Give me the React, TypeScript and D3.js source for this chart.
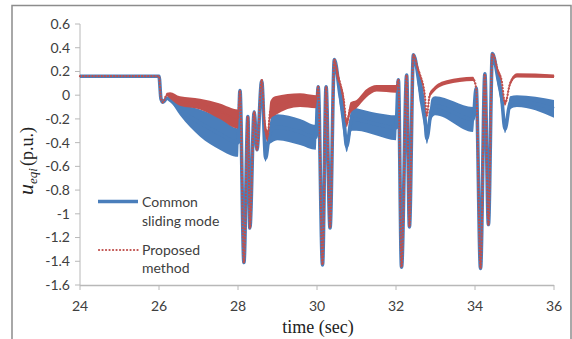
import React from "react";
import * as d3 from "d3";

// [time (s), low, high] envelopes of each signal (high-frequency band)
const commonSlidingMode: [number, number, number][] = [
  [24, 0.16, 0.16], [26.0, 0.16, 0.16], [26.05, -0.03, -0.03], [26.1, -0.06, -0.06],
  [26.2, -0.03, -0.02], [26.3, -0.06, -0.03], [26.53, -0.17, -0.07], [27.04, -0.35, -0.12],
  [27.54, -0.46, -0.19], [28.0, -0.52, -0.28],
  [28.05, 0.04, 0.04], [28.15, -1.41, -1.41], [28.25, -0.18, -0.18], [28.3, -1.12, -1.12],
  [28.41, -0.14, -0.14], [28.48, -0.46, -0.46], [28.6, 0.12, 0.12], [28.7, -0.56, -0.5],
  [28.78, -0.42, -0.3], [28.85, -0.4, -0.18], [29.0, -0.38, -0.16], [29.57, -0.42, -0.2],
  [29.97, -0.46, -0.25],
  [30.03, 0.07, 0.07], [30.14, -1.43, -1.43], [30.23, 0.07, 0.07], [30.33, -1.12, -1.12],
  [30.44, 0.3, 0.3], [30.58, -0.1, 0.11], [30.68, -0.35, -0.05], [30.75, -0.48, -0.38],
  [30.88, -0.3, -0.1], [31.0, -0.3, -0.11], [31.51, -0.34, -0.15], [32.0, -0.38, -0.17],
  [32.06, 0.13, 0.13], [32.14, -1.45, -1.45], [32.27, 0.17, 0.17], [32.34, -1.11, -1.11],
  [32.44, 0.34, 0.34], [32.61, -0.07, 0.17], [32.73, -0.3, -0.05], [32.78, -0.41, -0.32],
  [32.9, -0.2, -0.03], [32.99, -0.17, -0.01], [33.95, -0.31, -0.1],
  [34.03, 0.06, 0.06], [34.14, -1.46, -1.46], [34.25, 0.18, 0.18], [34.34, -1.09, -1.09],
  [34.44, 0.35, 0.35], [34.59, 0.05, 0.2], [34.67, -0.1, 0.1], [34.76, -0.32, -0.25],
  [34.89, -0.12, -0.01], [35.06, -0.1, 0.0], [36.0, -0.19, -0.04],
];

const proposedMethod: [number, number, number][] = [
  [24, 0.16, 0.16], [26.0, 0.16, 0.16], [26.05, -0.03, -0.03], [26.1, -0.06, -0.06],
  [26.2, -0.01, 0.02], [26.28, -0.03, 0.025], [26.53, -0.09, -0.01], [27.04, -0.12, -0.03],
  [27.54, -0.2, -0.07], [28.0, -0.28, -0.12],
  [28.05, 0.04, 0.04], [28.15, -1.41, -1.41], [28.25, -0.18, -0.18], [28.3, -1.12, -1.12],
  [28.41, -0.14, -0.14], [28.48, -0.46, -0.46], [28.6, 0.13, 0.13], [28.67, -0.3, -0.15],
  [28.75, -0.39, -0.3], [28.82, -0.2, -0.05], [28.94, -0.17, -0.01], [29.57, -0.1, 0.016],
  [29.97, -0.11, 0.0],
  [30.03, 0.07, 0.07], [30.14, -1.43, -1.43], [30.23, 0.07, 0.07], [30.33, -1.12, -1.12],
  [30.44, 0.3, 0.3], [30.5, 0.15, 0.25], [30.58, 0.08, 0.13], [30.68, -0.1, 0.0],
  [30.75, -0.27, -0.2], [30.85, -0.15, -0.06], [31.0, -0.11, -0.04], [31.25, -0.02, 0.05],
  [31.51, 0.03, 0.086], [32.0, 0.02, 0.086],
  [32.06, 0.13, 0.13], [32.14, -1.45, -1.45], [32.27, 0.17, 0.17], [32.34, -1.11, -1.11],
  [32.44, 0.34, 0.34], [32.55, 0.2, 0.25], [32.61, 0.15, 0.19], [32.73, -0.03, 0.02],
  [32.78, -0.19, -0.15], [32.85, -0.03, 0.02], [32.94, 0.02, 0.06], [33.28, 0.09, 0.125],
  [33.95, 0.12, 0.155],
  [34.03, 0.06, 0.06], [34.14, -1.46, -1.46], [34.25, 0.18, 0.18], [34.34, -1.09, -1.09],
  [34.44, 0.35, 0.35], [34.59, 0.17, 0.22], [34.67, 0.11, 0.15], [34.76, -0.09, -0.05],
  [34.89, 0.08, 0.12], [35.06, 0.15, 0.185], [36.0, 0.145, 0.175],
];

const xTicks = [24, 26, 28, 30, 32, 34, 36];
const yTicks = [0.6, 0.4, 0.2, 0, -0.2, -0.4, -0.6, -0.8, -1, -1.2, -1.4, -1.6];
const legendLabels = [["Common", "sliding mode"], ["Proposed", "method"]];

const BLUE = "#4a7ebb";
const RED = "#c0504d";
const AXIS = "#b8b8b8";
const TEXT = "#404040";
const SANS = "Lato, 'Open Sans', sans-serif";
const SERIF = "'Liberation Serif', 'DejaVu Serif', serif";

export default function App() {
  const x = d3.scaleLinear().domain([24, 36]).range([80, 554]);
  const y = d3.scaleLinear().domain([-1.6, 0.6]).range([285, 24]);

  const area = d3
    .area<[number, number, number]>()
    .curve(d3.curveMonotoneX)
    .x((d) => x(d[0]))
    .y0((d) => y(d[1]))
    .y1((d) => y(d[2]));
  const line = d3
    .line<[number, number, number]>()
    .curve(d3.curveMonotoneX)
    .x((d) => x(d[0]))
    .y((d) => y((d[1] + d[2]) / 2));

  return (
    <svg
      width={572}
      height={339}
      style={{ position: "absolute", left: 0, top: 0, background: "#fff" }}
    >
      <rect x={12} y={5.5} width={559} height={345} fill="#fff" stroke="#8c8c8c" strokeWidth={1.5} />

      {/* axes */}
      <line x1={80} x2={80} y1={y(0.6)} y2={y(-1.6)} stroke={AXIS} strokeWidth={1} />
      <line x1={80} x2={554} y1={y(-1.6) + 0.5} y2={y(-1.6) + 0.5} stroke={AXIS} strokeWidth={1.5} />
      {yTicks.map((v) => (
        <g key={"y" + v}>
          <line x1={75} x2={80} y1={y(v)} y2={y(v)} stroke={AXIS} />
          <text x={70} y={y(v)} dy="0.35em" textAnchor="end" fontFamily={SANS} fontSize={14} fill={TEXT}>
            {String(v)}
          </text>
        </g>
      ))}
      {xTicks.map((t) => (
        <g key={"x" + t}>
          <line x1={x(t)} x2={x(t)} y1={y(-1.6)} y2={y(-1.6) + 5} stroke={AXIS} />
          <text x={x(t)} y={311} textAnchor="middle" fontFamily={SANS} fontSize={14} fill={TEXT}>
            {t}
          </text>
        </g>
      ))}

      {/* series */}
      <path d={area(commonSlidingMode) || ""} fill={BLUE} />
      <path d={line(commonSlidingMode) || ""} fill="none" stroke={BLUE} strokeWidth={3.6} strokeLinejoin="round" />
      <path d={area(proposedMethod) || ""} fill={RED} />
      <path
        d={line(proposedMethod) || ""}
        fill="none"
        stroke={RED}
        strokeWidth={2.3}
        strokeDasharray="0.1 3"
        strokeLinecap="round"
        strokeLinejoin="round"
      />

      {/* legend */}
      <line x1={98} x2={138} y1={201.5} y2={201.5} stroke={BLUE} strokeWidth={3.5} />
      <text x={142} y={207} fontFamily={SANS} fontSize={14} fill={TEXT}>{legendLabels[0][0]}</text>
      <text x={142} y={226} fontFamily={SANS} fontSize={14} fill={TEXT}>{legendLabels[0][1]}</text>
      <line
        x1={99}
        x2={138}
        y1={250}
        y2={250}
        stroke={RED}
        strokeWidth={2.2}
        strokeDasharray="0.1 3.4"
        strokeLinecap="round"
      />
      <text x={142} y={255} fontFamily={SANS} fontSize={14} fill={TEXT}>{legendLabels[1][0]}</text>
      <text x={142} y={273} fontFamily={SANS} fontSize={14} fill={TEXT}>{legendLabels[1][1]}</text>

      {/* axis titles */}
      <text x={318} y={333} textAnchor="middle" fontFamily={SERIF} fontSize={18} fill="#222">
        time (sec)
      </text>
      <text
        transform="translate(33,161) rotate(-90)"
        textAnchor="middle"
        fontFamily={SERIF}
        fontSize={18}
        fill="#222"
      >
        <tspan fontStyle="italic" fontSize={22}>u</tspan>
        <tspan fontStyle="italic" fontSize={13} dy={4}>eqi</tspan>
        <tspan dy={-4} dx={2}>(p.u.)</tspan>
      </text>
    </svg>
  );
}
